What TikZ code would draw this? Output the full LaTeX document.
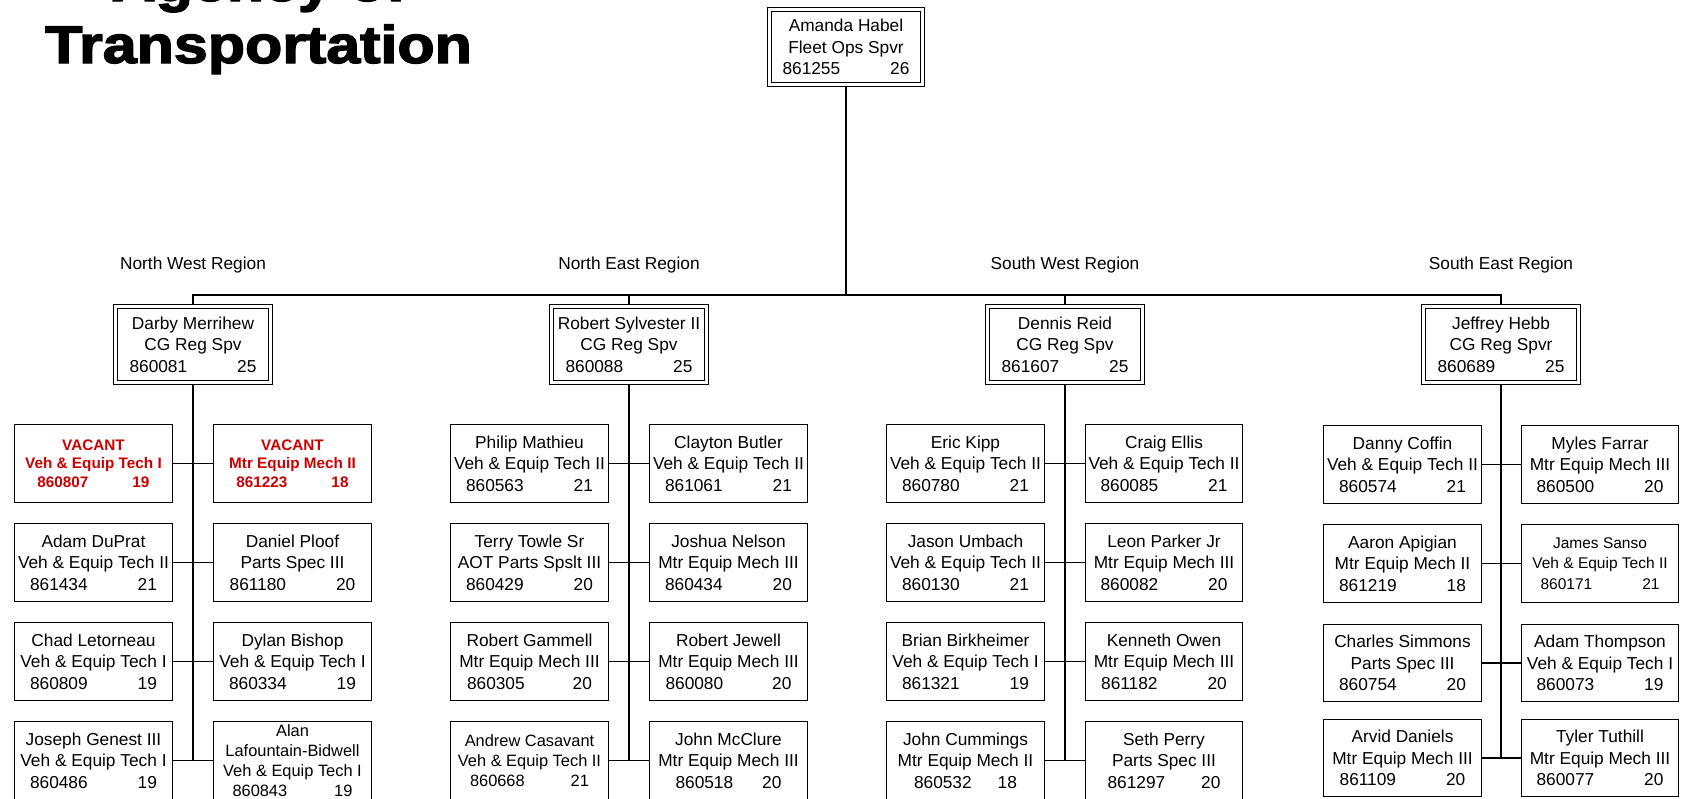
\documentclass[tikz,border=0pt]{standalone}
\usepackage{fontspec}
\setmainfont{Liberation Sans}
\newfontfamily\titlefont{Liberation Sans}[BoldFeatures={FakeBold=2.5}]
\usetikzlibrary{backgrounds}
\definecolor{vacred}{RGB}{204,0,0}
\newcommand{\nl}[3][50pt]{#2\hspace{#1}#3}
\tikzset{
  emp/.style={draw, fill=white, line width=1.2pt, minimum width=157.7pt, minimum height=77.7pt,
    inner sep=0pt, align=center, font=\fontsize{17.3}{21.5}\selectfont},
  mgr/.style={draw, line width=1pt, double, double distance=3pt, fill=white,
    minimum width=155pt, minimum height=76pt, inner sep=0pt, align=center,
    font=\fontsize{17.3}{21.5}\selectfont},
  topbox/.style={mgr, minimum width=153pt, minimum height=75pt},
  vac/.style={emp, text=vacred, font=\bfseries\fontsize{15.3}{18.7}\selectfont},
  small/.style={emp, font=\fontsize{16.4}{20}\selectfont},
  smaller/.style={emp, font=\fontsize{15.5}{20.5}\selectfont},
  conn/.style={line width=1.3pt, line cap=rect},
  reglabel/.style={inner sep=0pt, font=\fontsize{17.3}{20}\selectfont},
  titletext/.style={inner sep=0pt, font=\titlefont\bfseries\fontsize{53}{58}\selectfont}
}
\begin{document}
\begin{tikzpicture}[x=1pt,y=-1pt]
\path[use as bounding box, clip] (0,0) rectangle (1687,798);

% title
\node[titletext, anchor=base] (title1) at (259,1) {\scalebox{1.15}[1]{Agency of}};
\node[titletext, anchor=base west] (title2) at (45,63) {\scalebox{1.15}[1]{Transportation}};

% top
\node[topbox] (top) at (846,47) {Amanda Habel\\Fleet Ops Spvr\\\nl{861255}{26}};

% region labels
\node[reglabel] (nwlab) at (193,265) {North West Region};
\node[reglabel] (nelab) at (629,265) {North East Region};
\node[reglabel] (swlab) at (1065,265) {South West Region};
\node[reglabel] (selab) at (1501,265) {South East Region};

% regional managers
\node[mgr] (nw) at (193,344.5) {Darby Merrihew\\CG Reg Spv\\\nl{860081}{25}};
\node[mgr] (ne) at (629,344.5) {Robert Sylvester II\\CG Reg Spv\\\nl{860088}{25}};
\node[mgr] (sw) at (1065,344.5) {Dennis Reid\\CG Reg Spv\\\nl{861607}{25}};
\node[mgr] (se) at (1501,344.5) {Jeffrey Hebb\\CG Reg Spvr\\\nl{860689}{25}};

% North West
\node[vac] (nw1l) at (93.5,463.5) {VACANT\\Veh \& Equip Tech I\\\nl[44pt]{860807}{19}};
\node[vac] (nw1r) at (292.5,463.5) {VACANT\\Mtr Equip Mech II\\\nl[44pt]{861223}{18}};
\node[emp] (nw2l) at (93.5,562.5) {Adam DuPrat\\Veh \& Equip Tech II\\\nl{861434}{21}};
\node[emp] (nw2r) at (292.5,562.5) {Daniel Ploof\\Parts Spec III\\\nl{861180}{20}};
\node[emp] (nw3l) at (93.5,661.5) {Chad Letorneau\\Veh \& Equip Tech I\\\nl{860809}{19}};
\node[emp] (nw3r) at (292.5,661.5) {Dylan Bishop\\Veh \& Equip Tech I\\\nl{860334}{19}};
\node[emp] (nw4l) at (93.5,760.5) {Joseph Genest III\\Veh \& Equip Tech I\\\nl{860486}{19}};
\node[small] (nw4r) at (292.5,760.5) {Alan\\Lafountain-Bidwell\\Veh \& Equip Tech I\\\nl[47pt]{860843}{19}};

% North East
\node[emp] (ne1l) at (529.5,463.5) {Philip Mathieu\\Veh \& Equip Tech II\\\nl{860563}{21}};
\node[emp] (ne1r) at (728.5,463.5) {Clayton Butler\\Veh \& Equip Tech II\\\nl{861061}{21}};
\node[emp] (ne2l) at (529.5,562.5) {Terry Towle Sr\\AOT Parts Spslt III\\\nl{860429}{20}};
\node[emp] (ne2r) at (728.5,562.5) {Joshua Nelson\\Mtr Equip Mech III\\\nl{860434}{20}};
\node[emp] (ne3l) at (529.5,661.5) {Robert Gammell\\Mtr Equip Mech III\\\nl[48pt]{860305}{20}};
\node[emp] (ne3r) at (728.5,661.5) {Robert Jewell\\Mtr Equip Mech III\\\nl[49pt]{860080}{20}};
\node[small] (ne4l) at (529.5,760.5) {Andrew Casavant\\Veh \& Equip Tech II\\\nl[46pt]{860668}{21}};
\node[emp] (ne4r) at (728.5,760.5) {John McClure\\Mtr Equip Mech III\\\nl[29pt]{860518}{20}};

% South West
\node[emp] (sw1l) at (965.5,463.5) {Eric Kipp\\Veh \& Equip Tech II\\\nl{860780}{21}};
\node[emp] (sw1r) at (1164,463.5) {Craig Ellis\\Veh \& Equip Tech II\\\nl{860085}{21}};
\node[emp] (sw2l) at (965.5,562.5) {Jason Umbach\\Veh \& Equip Tech II\\\nl{860130}{21}};
\node[emp] (sw2r) at (1164,562.5) {Leon Parker Jr\\Mtr Equip Mech III\\\nl{860082}{20}};
\node[emp] (sw3l) at (965.5,661.5) {Brian Birkheimer\\Veh \& Equip Tech I\\\nl{861321}{19}};
\node[emp] (sw3r) at (1164,661.5) {Kenneth Owen\\Mtr Equip Mech III\\\nl{861182}{20}};
\node[emp] (sw4l) at (965.5,760.5) {John Cummings\\Mtr Equip Mech II\\\nl[26pt]{860532}{18}};
\node[emp] (sw4r) at (1164,760.5) {Seth Perry\\Parts Spec III\\\nl[36pt]{861297}{20}};

% South East
\node[emp] (se1l) at (1402.5,464.5) {Danny Coffin\\Veh \& Equip Tech II\\\nl{860574}{21}};
\node[emp] (se1r) at (1600,464.5) {Myles Farrar\\Mtr Equip Mech III\\\nl{860500}{20}};
\node[emp] (se2l) at (1402.5,563.5) {Aaron Apigian\\Mtr Equip Mech II\\\nl{861219}{18}};
\node[smaller] (se2r) at (1600,563.5) {James Sanso\\Veh \& Equip Tech II\\\nl{860171}{21}};
\node[emp] (se3l) at (1402.5,663) {Charles Simmons\\Parts Spec III\\\nl{860754}{20}};
\node[emp] (se3r) at (1600,663) {Adam Thompson\\Veh \& Equip Tech I\\\nl{860073}{19}};
\node[emp] (se4l) at (1402.5,758) {Arvid Daniels\\Mtr Equip Mech III\\\nl{861109}{20}};
\node[emp] (se4r) at (1600,758) {Tyler Tuthill\\Mtr Equip Mech III\\\nl{860077}{20}};

\begin{scope}[on background layer]
  \fill[white] (0,0) rectangle (1687,798);
  \coordinate (bus) at (0,295);
  \draw[conn] (top.south) -- (top.south |- bus);
  \draw[conn] (nw.north) -- (nw.north |- bus) -- (se.north |- bus) -- (se.north);
  \draw[conn] (ne.north) -- (ne.north |- bus);
  \draw[conn] (sw.north) -- (sw.north |- bus);
  \foreach \r in {nw,ne,sw,se}{
    \draw[conn] (\r.south) -- (\r.south |- \r4l.east);
    \foreach \i in {1,2,3,4}{
      \draw[conn] (\r\i l.east) -- (\r\i r.west);
    }
  }
\end{scope}
\end{tikzpicture}
\end{document}
